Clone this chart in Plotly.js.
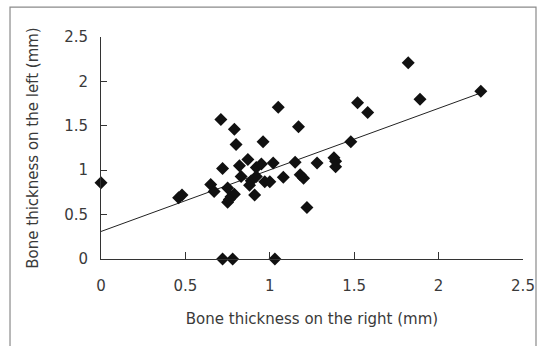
<!DOCTYPE html>
<html>
<head>
<meta charset="utf-8">
<script src="https://cdn.plot.ly/plotly-3.0.1.min.js"></script>
<style>html,body{margin:0;padding:0;background:#fff;}#chart{width:540px;height:346px;}</style>
</head>
<body>
<div id="chart"></div>
<script>
// Bone thickness on the right (mm)
const rightThickness = [
  0.00, 0.46, 0.48, 0.65, 0.67, 0.71, 0.72, 0.79, 0.80, 0.75,
  0.77, 0.75, 0.79, 0.76, 0.82, 0.87, 0.83, 0.89, 0.88, 0.91,
  0.92, 0.95, 0.92, 0.96, 0.97, 1.00, 1.02, 1.05, 1.08, 1.15,
  1.17, 1.18, 1.20, 1.22, 1.28, 1.38, 1.39, 1.39, 1.48, 1.52,
  1.58, 1.82, 1.89, 2.25, 0.72, 0.78, 1.03
];
// Bone thickness on the left (mm)
const leftThickness = [
  0.86, 0.69, 0.72, 0.84, 0.76, 1.57, 1.02, 1.46, 1.29, 0.80,
  0.70, 0.64, 0.73, 0.67, 1.05, 1.12, 0.93, 0.88, 0.83, 0.72,
  1.03, 1.07, 0.93, 1.32, 0.87, 0.87, 1.08, 1.71, 0.92, 1.09,
  1.49, 0.95, 0.91, 0.58, 1.08, 1.14, 1.10, 1.04, 1.32, 1.76,
  1.65, 2.21, 1.80, 1.89, 0.00, 0.00, 0.00
];
// Linear trend line endpoints
const trendX = [0, 2.25];
const trendY = [0.31, 1.87];

const xTickVals = [0, 0.5, 1, 1.5, 2, 2.5];
const xTickText = ['0', '0.5', '1', '1.5', '2', '2.5'];
const yTickVals = [0, 0.5, 1, 1.5, 2, 2.5];
const yTickText = ['0', '0.5', '1', '1.5', '2', '2.5'];

const fontFam = 'DejaVu Sans, sans-serif';
const textCol = '#3a3a3a';

const traces = [
  {
    x: trendX, y: trendY, type: 'scatter', mode: 'lines',
    line: {color: '#222222', width: 1}, hoverinfo: 'skip', showlegend: false
  },
  {
    x: rightThickness, y: leftThickness, type: 'scatter', mode: 'markers',
    marker: {symbol: 'diamond', size: 10, color: '#111111', line: {width: 0}},
    showlegend: false, cliponaxis: false
  }
];

const layout = {
  width: 540, height: 346,
  margin: {l: 101, r: 17, t: 37, b: 87},
  paper_bgcolor: '#ffffff', plot_bgcolor: '#ffffff',
  font: {family: fontFam, color: textCol, size: 15},
  showlegend: false,
  xaxis: {
    range: [0, 2.5], tickmode: 'array', tickvals: xTickVals, ticktext: xTickText,
    showgrid: false, zeroline: false, showline: true, linecolor: '#333333', linewidth: 1,
    ticks: 'inside', ticklen: 7, tickcolor: '#333333', tickwidth: 1,
    ticklabelstandoff: 13,
    tickfont: {family: fontFam, size: 15, color: textCol},
    title: {text: 'Bone thickness on the right (mm)', font: {family: fontFam, size: 15, color: textCol}, standoff: 19},
    fixedrange: true
  },
  yaxis: {
    range: [0, 2.5], tickmode: 'array', tickvals: yTickVals, ticktext: yTickText,
    showgrid: false, zeroline: false, showline: true, linecolor: '#333333', linewidth: 1,
    ticks: 'inside', ticklen: 6, tickcolor: '#333333', tickwidth: 1,
    ticklabelstandoff: 9,
    tickfont: {family: fontFam, size: 15, color: textCol},
    title: {text: 'Bone thickness on the left (mm)', font: {family: fontFam, size: 15, color: textCol}, standoff: 21},
    fixedrange: true
  },
  shapes: [
    {type: 'rect', xref: 'paper', yref: 'paper',
     x0: -0.2156, x1: 1.0308, y0: -0.45, y1: 1.135,
     line: {color: '#8a8a8a', width: 1.2}, fillcolor: 'rgba(0,0,0,0)', layer: 'below'}
  ]
};

Plotly.newPlot('chart', traces, layout, {displayModeBar: false, staticPlot: true});
</script>
</body>
</html>
